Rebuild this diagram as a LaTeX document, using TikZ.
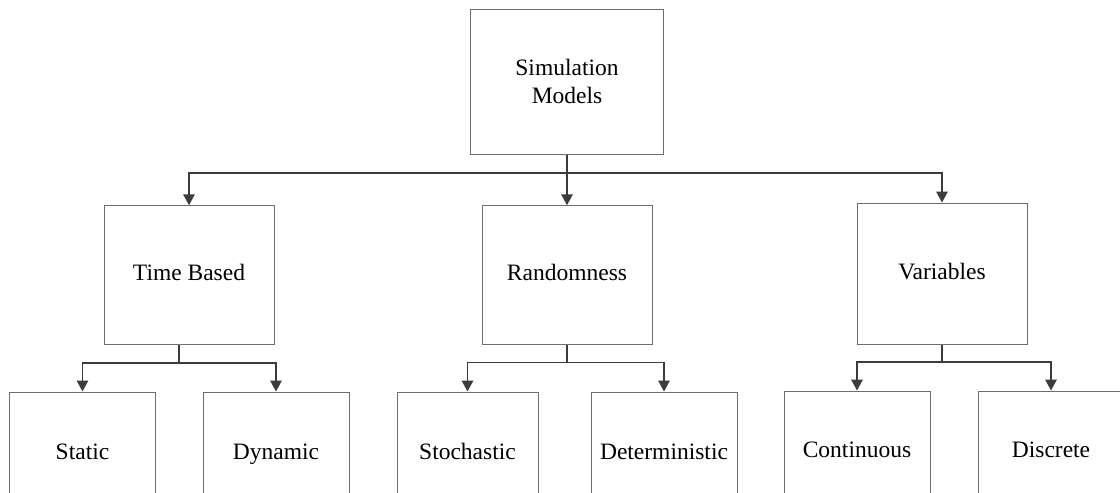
\documentclass[tikz,border=0pt]{standalone}
\usepackage{fontspec}
\setmainfont{Liberation Serif}
\usetikzlibrary{arrows.meta}
\definecolor{boxline}{HTML}{6E6E6E}
\definecolor{connline}{HTML}{3C3C3C}
\tikzset{
  box/.style={draw=boxline, line width=1pt, rectangle, inner sep=0pt, align=center,
    font=\fontsize{23.5}{28}\selectfont},
  single/.style={text height=16pt, text depth=5pt},
  midbox/.style={box, single, minimum width=170pt, minimum height=138.5pt},
  leafbox/.style={box, single, minimum width=146pt, minimum height=124pt},
  conn/.style={draw=connline, line width=1.6pt},
  arr/.style={conn, -{Triangle[width=11.5pt,length=11pt]}},
}
\begin{document}
\begin{tikzpicture}[x=1pt,y=-1pt]
\useasboundingbox (0,0) rectangle (1120,493);
\clip (0,0) rectangle (1120,493);
\node[box, minimum width=193pt, minimum height=145pt] (top) at (567,81.5) {Simulation\\Models};
\node[midbox] (tb) at (189,275) {Time Based};
\node[midbox] (rd) at (567,275) {Randomness};
\node[midbox, minimum height=141pt] (vr) at (942,273.5) {Variables};
\node[leafbox] (st) at (82.5,454) {Static};
\node[leafbox] (dy) at (276,454) {Dynamic};
\node[leafbox, minimum width=141pt] (sc) at (467.5,454) {Stochastic};
\node[leafbox] (de) at (664,454) {Deterministic};
\node[leafbox, minimum height=122pt] (co) at (857,452) {Continuous};
\node[leafbox, minimum height=122pt] (di) at (1051,452) {Discrete};
% level 1
\coordinate (j1) at (567,173);
\draw[arr] (top.south) -- (rd.north);
\draw[arr] (j1) -| (tb);
\draw[arr] (j1) -| (vr);
% level 2
\coordinate (j2) at (179,363);
\draw[conn] (tb.south -| j2) -- (j2);
\draw[arr] (j2) -| (st);
\draw[arr] (j2) -| (dy);
\coordinate (j3) at (567,362.5);
\draw[conn] (rd.south) -- (j3);
\draw[arr] (j3) -| (sc);
\draw[arr] (j3) -| (de);
\coordinate (j4) at (942,362);
\draw[conn] (vr.south) -- (j4);
\draw[arr] (j4) -| (co);
\draw[arr] (j4) -| (di);
\end{tikzpicture}
\end{document}
